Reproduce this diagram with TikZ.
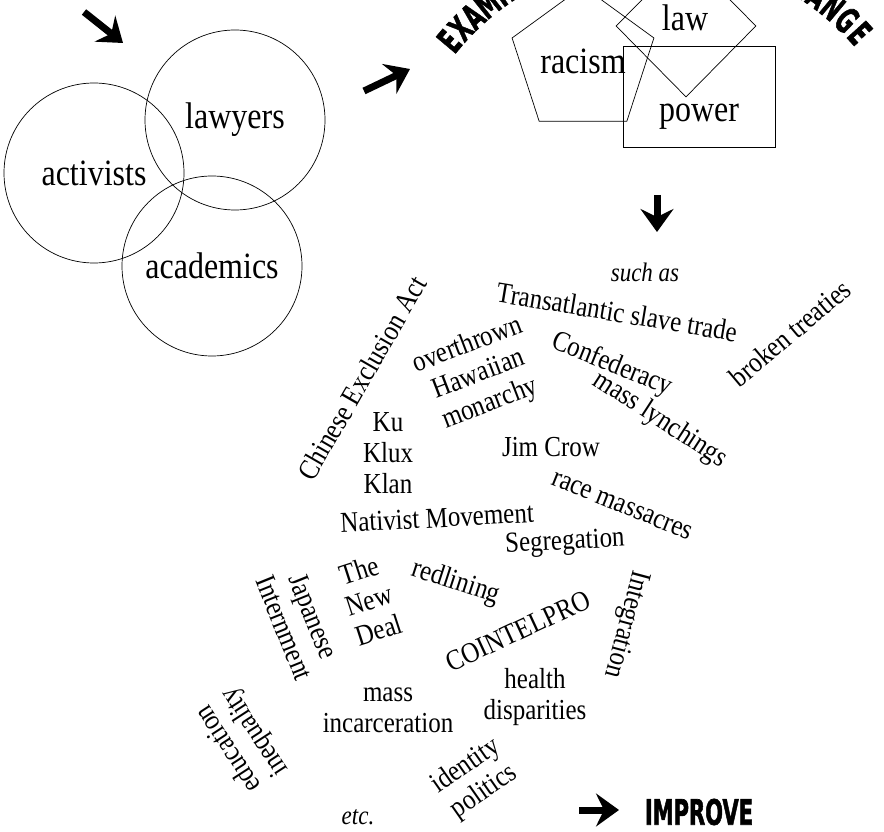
\documentclass[tikz,border=0pt]{standalone}
\usepackage{fontspec}
\usepackage{graphicx}
\setmainfont{Liberation Serif}
\newfontfamily\headfont{DejaVu Sans}[BoldFeatures={FakeBold=2}]
\usetikzlibrary{shapes.geometric,arrows.meta}
\newcommand\narrow[1]{\scalebox{0.6}[1]{#1}}
\newcommand\up[1]{\scalebox{1}[1.16]{#1}}

\begin{document}
\begin{tikzpicture}[x=1pt,y=1pt,line width=0.7pt,
		big/.style={font=\fontsize{32}{38}\selectfont},
		word/.style={font=\fontsize{25}{27}\selectfont, align=center, inner sep=0pt},
		tall/.style={yscale=1.16},
		ring/.style={draw, circle, minimum size=180pt, inner sep=0pt, big},
		head/.style={font=\headfont\bfseries\fontsize{35}{35}\selectfont, inner sep=0pt},
		fat/.style={line width=7pt, -{Stealth[length=23pt,width=33pt,inset=8pt]}}]
		\useasboundingbox (0,0) rectangle (884,831);
		% who
		\begin{scope}
			\node[ring] (activists) at (94,658) {\up{activists}};
			\node[ring] (lawyers) at (235,711) {\up{lawyers}};
			\node[ring] (academics) at (212,565) {\up{academics}};
		\end{scope}
		% what
		\begin{scope}
			\node[draw, regular polygon, regular polygon sides=5, minimum size=134pt, inner sep=0pt, big] (racism) at (583,770) {\up{racism}};
			\node[draw, diamond, minimum width=140pt, minimum height=142pt, inner sep=0pt] (lawbox) at (686,805) {};
			\node[draw, rectangle, minimum width=152pt, minimum height=101pt, inner sep=0pt] (powerbox) at (699,734.5) {};
			\node[big, inner sep=0pt] (law) at (685,813) {\up{law}};
			\node[big, inner sep=0pt] (power) at (699,714) {\up{power}};
		\end{scope}
		% heading on the arc
		\coordinate (hub) at (658,614);
		\foreach \ch/\a [count=\i] in {E/139.9,X/136.3,A/132.7,M/128.7,I/125.6,N/122.6,E/119.2}
			\node[head, rotate=\a-90] (ex\i) at ([shift={(\a:273)}]hub) {\narrow{\ch}};
		\foreach \ch/\a [count=\i] in {C/61.9,H/58.0,A/54.1,N/50.2,G/46.2,E/42.3}
			\node[head, rotate=\a-90] (ch\i) at ([shift={(\a:273)}]hub) {\narrow{\ch}};
		% arrows
		\coordinate (a1s) at (84,819);  \coordinate (a1e) at (123,788);
		\coordinate (a2s) at (364,740); \coordinate (a2e) at (410,762);
		\coordinate (a3s) at (657,636); \coordinate (a3e) at (657,599);
		\coordinate (a4s) at (579,21);  \coordinate (a4e) at (619,21);
		\draw[fat] (a1s) -- (a1e);
		\draw[fat] (a2s) -- (a2e);
		\draw[fat] (a3s) -- (a3e);
		\draw[fat] (a4s) -- (a4e);
		% examples
		\begin{scope}
			\node[word, font=\fontsize{23}{27}\selectfont\itshape, tall] (such) at (645,559) {such as};
			\node[word, rotate=-9.5, tall] (slave) at (617,519) {Transatlantic slave trade};
			\node[word, rotate=40, tall] (treaties) at (790,498) {broken treaties};
			\node[word, rotate=60, tall] (exclusion) at (362,453) {Chinese Exclusion Act};
			\node[word, rotate=21, tall] (hawaii) at (479,456) {overthrown\\Hawaiian\\monarchy};
			\node[word, rotate=-22, tall] (confed) at (612,466) {Confederacy};
			\node[word, rotate=-33, tall] (lynch) at (660,411) {mass lynchings};
			\node[word, tall] (kkk) at (388,378) {Ku\\Klux\\Klan};
			\node[word, tall] (crow) at (551,384) {Jim Crow};
			\node[word, rotate=-22, tall] (massacre) at (622,325) {race massacres};
			\node[word, rotate=3, tall] (nativist) at (437,313) {Nativist Movement};
			\node[word, rotate=3, tall] (segregation) at (565,288) {Segregation};
			\node[word, rotate=18, tall] (newdeal) at (369,231) {The\\New\\Deal};
			\node[word, rotate=-18, tall] (redlining) at (456,248) {redlining};
			\node[word, rotate=-68, tall] (internment) at (299,209) {Japanese\\Internment};
			\node[word, rotate=-105, tall] (integration) at (626,207) {Integration};
			\node[word, rotate=25, tall] (cointel) at (518,200) {COINTELPRO};
			\node[word, tall] (health) at (535,134) {health\\disparities};
			\node[word, tall] (prison) at (388,121) {mass\\incarceration};
			\node[word, rotate=123, tall] (school) at (242,91) {education\\inequality};
			\node[word, rotate=35, tall] (identity) at (475,52) {identity\\politics};
			\node[word, font=\fontsize{23}{27}\selectfont\itshape, tall] (etc) at (358,14) {etc.};
		\end{scope}
		\node[head] (improve) at (699,19) {\narrow{IMPROVE}};
	\end{tikzpicture}
\end{document}
